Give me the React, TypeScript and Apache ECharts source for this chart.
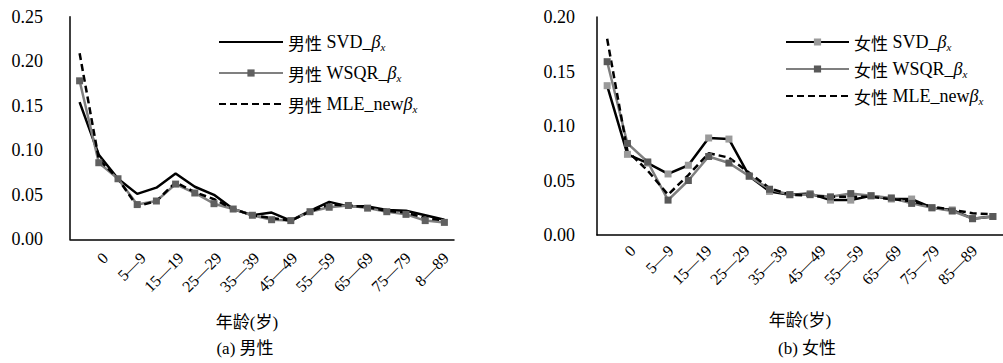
import React, { useEffect, useRef } from "react";
import * as echarts from "echarts";

const categoriesMale = ["0", "1—4", "5—9", "10—14", "15—19", "20—24", "25—29", "30—34", "35—39", "40—44", "45—49", "50—54", "55—59", "60—64", "65—69", "70—74", "75—79", "80—84", "8—89", "90+"];
const categoriesFemale = ["0", "1—4", "5—9", "10—14", "15—19", "20—24", "25—29", "30—34", "35—39", "40—44", "45—49", "50—54", "55—59", "60—64", "65—69", "70—74", "75—79", "80—84", "85—89", "90+"];

const maleSVD = [0.154, 0.095, 0.068, 0.051, 0.058, 0.074, 0.059, 0.050, 0.034, 0.027, 0.030, 0.021, 0.032, 0.042, 0.037, 0.037, 0.033, 0.032, 0.027, 0.022];
const maleWSQR = [0.178, 0.086, 0.068, 0.039, 0.043, 0.062, 0.052, 0.040, 0.034, 0.027, 0.022, 0.021, 0.031, 0.036, 0.038, 0.035, 0.031, 0.028, 0.021, 0.019];
const maleMLE = [0.209, 0.090, 0.068, 0.037, 0.043, 0.064, 0.053, 0.045, 0.034, 0.027, 0.024, 0.021, 0.031, 0.039, 0.038, 0.036, 0.032, 0.030, 0.024, 0.021];

const femaleSVD = [0.137, 0.074, 0.066, 0.056, 0.064, 0.089, 0.088, 0.054, 0.040, 0.037, 0.038, 0.032, 0.032, 0.036, 0.033, 0.033, 0.025, 0.023, 0.015, 0.017];
const femaleWSQR = [0.159, 0.084, 0.067, 0.032, 0.050, 0.072, 0.066, 0.054, 0.042, 0.037, 0.037, 0.035, 0.038, 0.036, 0.034, 0.029, 0.025, 0.022, 0.015, 0.017];
const femaleMLE = [0.180, 0.077, 0.059, 0.037, 0.055, 0.075, 0.071, 0.057, 0.043, 0.037, 0.036, 0.035, 0.035, 0.035, 0.033, 0.031, 0.026, 0.023, 0.020, 0.019];

const maleNames = ["男性 SVD_βx", "男性 WSQR_βx", "男性 MLE_newβx"];
const femaleNames = ["女性 SVD_βx", "女性 WSQR_βx", "女性 MLE_newβx"];

const axisTitle = "年龄(岁)";
const maleTitle = "(a) 男性";
const femaleTitle = "(b) 女性";

const FL = "'Liberation Serif', 'Times New Roman', serif";
const FC = "'Noto Sans CJK SC', sans-serif";
const FMIX = "'Liberation Serif', 'Noto Sans CJK SC', serif";

const legendFormatter = (name: string) => {
  const sex = name.slice(0, 2);
  const m = name.slice(3, name.length - 2);
  return `{c|${sex}} {l|${m}}{b|β}{s|x}`;
};

const rich = {
  c: { fontFamily: FC, fontSize: 17, lineHeight: 20, color: "#000" },
  l: { fontFamily: FL, fontSize: 18, lineHeight: 20, color: "#000" },
  b: { fontFamily: FL, fontSize: 18, lineHeight: 20, fontStyle: "italic", color: "#000" },
  s: { fontFamily: FL, fontSize: 11, lineHeight: 11, fontStyle: "italic", verticalAlign: "bottom", color: "#000" },
};

export default function App() {
  const ref = useRef<HTMLDivElement>(null);
  useEffect(() => {
    if (!ref.current) return;
    const chart = echarts.init(ref.current, null, { renderer: "svg" });
    const axisLine = { show: true, lineStyle: { color: "#000", width: 1.5 } };
    const yLabel = (margin: number) => ({
      fontFamily: FL,
      fontSize: 18,
      color: "#000",
      margin,
      formatter: (v: number) => v.toFixed(2),
    });
    const tickLabel = (margin: number) => ({
      show: true,
      rotate: 45,
      interval: 1,
      fontFamily: FL,
      fontSize: 16,
      color: "#000",
      margin,
    });
    const hiddenAxis = { axisLine: { show: false }, axisTick: { show: false }, axisLabel: { show: false }, splitLine: { show: false } };
    const solid = (color: string) => ({ color, width: 2.5 });
    const dashed = { color: "#000", width: 2.5, type: [7, 4] };
    const noMark = { itemStyle: { opacity: 0 } };
    chart.setOption({
      animation: false,
      backgroundColor: "#fff",
      grid: [
        { left: 70, top: 16.7, width: 384, height: 222.6 },
        { left: 597, top: 17, width: 416, height: 218 },
        { left: 95.7, top: 16.7, width: 378.6, height: 222.6 },
        { left: 623.4, top: 17, width: 381.2, height: 218 },
      ],
      xAxis: [
        { type: "category", gridIndex: 0, data: categoriesMale, boundaryGap: true, axisLine, axisTick: { show: false }, axisLabel: { show: false } },
        { type: "category", gridIndex: 1, data: categoriesFemale, boundaryGap: true, axisLine, axisTick: { show: false }, axisLabel: { show: false } },
        { type: "category", gridIndex: 2, data: categoriesMale, boundaryGap: true, axisLine: { show: false }, axisTick: { show: false }, axisLabel: tickLabel(16) },
        { type: "category", gridIndex: 3, data: categoriesFemale, boundaryGap: true, axisLine: { show: false }, axisTick: { show: false }, axisLabel: tickLabel(13) },
      ],
      yAxis: [
        { type: "value", gridIndex: 0, min: 0, max: 0.25, interval: 0.05, axisLine, axisTick: { show: false }, splitLine: { show: false }, axisLabel: yLabel(27) },
        { type: "value", gridIndex: 1, min: 0, max: 0.2, interval: 0.05, axisLine, axisTick: { show: false }, splitLine: { show: false }, axisLabel: yLabel(22) },
        { type: "value", gridIndex: 2, min: 0, max: 1, ...hiddenAxis },
        { type: "value", gridIndex: 3, min: 0, max: 1, ...hiddenAxis },
      ],
      legend: [
        {
          data: [{ name: maleNames[0], ...noMark }, maleNames[1], { name: maleNames[2], ...noMark }],
          orient: "vertical",
          left: 213,
          top: 28,
          itemWidth: 64,
          itemHeight: 9,
          itemGap: 12,
          formatter: legendFormatter,
          textStyle: { fontFamily: FL, fontSize: 18, color: "#000", rich },
          selectedMode: false,
        },
        {
          data: [femaleNames[0], femaleNames[1], { name: femaleNames[2], ...noMark }],
          orient: "vertical",
          left: 780,
          top: 28,
          itemWidth: 63,
          itemHeight: 9,
          itemGap: 8,
          formatter: legendFormatter,
          textStyle: { fontFamily: FL, fontSize: 18, color: "#000", rich },
          selectedMode: false,
        },
      ],
      series: [
        { name: maleNames[0], type: "line", xAxisIndex: 0, yAxisIndex: 0, data: maleSVD, symbol: "none", lineStyle: solid("#000"), itemStyle: { color: "#000" } },
        { name: maleNames[1], type: "line", xAxisIndex: 0, yAxisIndex: 0, data: maleWSQR, symbol: "rect", symbolSize: 7, lineStyle: solid("#808080"), itemStyle: { color: "#606060" } },
        { name: maleNames[2], type: "line", xAxisIndex: 0, yAxisIndex: 0, data: maleMLE, symbol: "none", lineStyle: dashed, itemStyle: { color: "#000" } },
        { name: femaleNames[0], type: "line", xAxisIndex: 1, yAxisIndex: 1, data: femaleSVD, symbol: "rect", symbolSize: 7, lineStyle: solid("#000"), itemStyle: { color: "#9a9a9a" } },
        { name: femaleNames[1], type: "line", xAxisIndex: 1, yAxisIndex: 1, data: femaleWSQR, symbol: "rect", symbolSize: 7, lineStyle: solid("#7f7f7f"), itemStyle: { color: "#595959" } },
        { name: femaleNames[2], type: "line", xAxisIndex: 1, yAxisIndex: 1, data: femaleMLE, symbol: "none", lineStyle: dashed, itemStyle: { color: "#000" } },
      ],
      graphic: [
        { type: "text", x: 247, y: 322, style: { text: axisTitle, font: `17px ${FMIX}`, fill: "#000", align: "center", verticalAlign: "middle" } },
        { type: "text", x: 245, y: 348, style: { text: maleTitle, font: `17px ${FMIX}`, fill: "#000", align: "center", verticalAlign: "middle" } },
        { type: "text", x: 800, y: 320, style: { text: axisTitle, font: `17px ${FMIX}`, fill: "#000", align: "center", verticalAlign: "middle" } },
        { type: "text", x: 807, y: 348, style: { text: femaleTitle, font: `17px ${FMIX}`, fill: "#000", align: "center", verticalAlign: "middle" } },
      ],
    });
    return () => chart.dispose();
  }, []);
  return <div ref={ref} style={{ position: "absolute", left: 0, top: 0, width: 1003, height: 363 }} />;
}
